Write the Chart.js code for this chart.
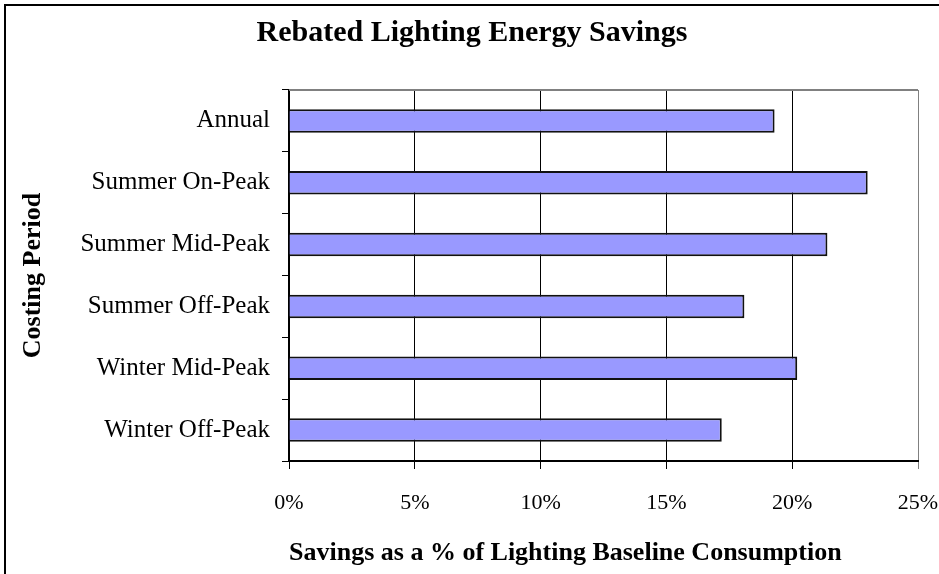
<!DOCTYPE html>
<html>
<head>
<meta charset="utf-8">
<script src="https://cdn.jsdelivr.net/npm/chart.js@4"></script>
<style>
  html, body { margin: 0; padding: 0; background: #fff; overflow: hidden; }
  canvas { display: block; }
</style>
</head>
<body>
<canvas id="chart" width="939" height="574"></canvas>
<script>
// data
const periods = ["Annual", "Summer On-Peak", "Summer Mid-Peak", "Summer Off-Peak", "Winter Mid-Peak", "Winter Off-Peak"];
const savingsPct = [19.3, 23.0, 21.4, 18.1, 20.2, 17.2];
const xTicks = [0, 5, 10, 15, 20, 25];

const serif = "'Liberation Serif', 'Times New Roman', serif";

// outer chart frame (left + top edges visible) and gray top edge of the plot
const frames = {
  id: "frames",
  beforeDraw(chart) {
    const { ctx, width, height } = chart;
    ctx.save();
    ctx.strokeStyle = "#000";
    ctx.lineWidth = 2;
    ctx.beginPath();
    ctx.moveTo(5, height);
    ctx.lineTo(5, 5);
    ctx.lineTo(width, 5);
    ctx.stroke();
    ctx.restore();
  },
  beforeDatasetsDraw(chart) {
    const { ctx, chartArea: a } = chart;
    ctx.save();
    ctx.strokeStyle = "#808080";
    ctx.lineWidth = 2;
    ctx.beginPath();
    ctx.moveTo(a.left, a.top);
    ctx.lineTo(a.right, a.top);
    ctx.stroke();
    ctx.restore();
  }
};

new Chart(document.getElementById("chart"), {
  type: "bar",
  data: {
    labels: periods,
    datasets: [{
      data: savingsPct,
      backgroundColor: "#9999FF",
      borderColor: "#111",
      borderWidth: 2,
      barPercentage: 0.38,
      categoryPercentage: 1
    }]
  },
  options: {
    indexAxis: "y",
    responsive: false,
    animation: false,
    layout: { padding: { left: 5, right: 0, top: 0, bottom: 0 } },
    plugins: {
      legend: { display: false },
      tooltip: { enabled: false },
      title: {
        display: true,
        text: "Rebated Lighting Energy Savings",
        color: "#000",
        font: { family: serif, size: 30, weight: "bold" },
        padding: { top: 15, bottom: 39 }
      }
    },
    scales: {
      x: {
        min: 0,
        max: 25,
        afterBuildTicks: (s) => { s.ticks = xTicks.map((v) => ({ value: v })); },
        ticks: {
          color: "#000",
          font: { family: serif, size: 22 },
          padding: 21,
          callback: (v) => v + "%"
        },
        grid: {
          color: (c) => (c.index === xTicks.length - 1 ? "#808080" : "#000"),
          lineWidth: 1,
          tickLength: 8
        },
        border: { color: "#000", width: 2 },
        title: {
          display: true,
          text: "Savings as a % of Lighting Baseline Consumption",
          align: "start",
          color: "#000",
          font: { family: serif, size: 26, weight: "bold" },
          padding: { top: 21, bottom: 5 }
        },
        afterFit: (s) => { s.height = 113; s.paddingRight = 21; }
      },
      y: {
        ticks: {
          color: "#000",
          font: { family: serif, size: 25 },
          padding: 12
        },
        grid: {
          drawOnChartArea: false,
          color: "#000",
          tickLength: 7
        },
        border: { color: "#000", width: 2 },
        title: {
          display: true,
          text: "Costing Period",
          color: "#000",
          font: { family: serif, size: 26, weight: "bold" },
          padding: { top: 13, bottom: 10 }
        },
        afterFit: (s) => { s.width = 284; }
      }
    }
  },
  plugins: [frames]
});
</script>
</body>
</html>
